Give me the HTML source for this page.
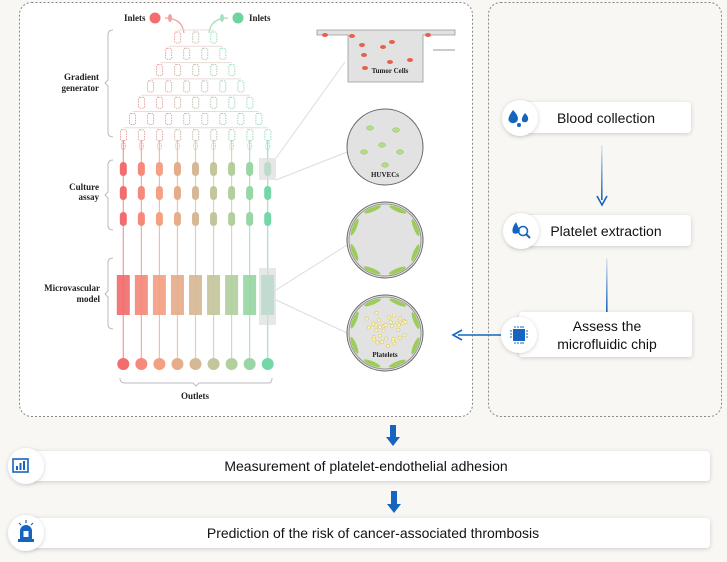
<!DOCTYPE html>
<html><head><meta charset="utf-8"><style>
html,body{margin:0;padding:0;background:#f8f7f3;}
svg{display:block;font-family:"Liberation Sans",sans-serif;}
.s{font-family:"Liberation Serif",serif;font-weight:bold;fill:#222;}
</style></head><body>
<svg id="sv" width="727" height="562" viewBox="0 0 727 562" xmlns="http://www.w3.org/2000/svg">
<defs>
<filter id="sh" x="-10%" y="-30%" width="120%" height="170%"><feDropShadow dx="0" dy="1" stdDeviation="2" flood-color="#000" flood-opacity="0.18"/></filter>
<linearGradient id="vl" x1="0" y1="0" x2="0" y2="1"><stop offset="0" stop-color="#1565c0" stop-opacity="0.1"/><stop offset="1" stop-color="#1565c0"/></linearGradient>
</defs>
<rect x="0" y="0" width="727" height="562" fill="#f8f7f3"/>
<rect x="19.5" y="2.5" width="453" height="414" rx="12" fill="#fff" stroke="#888" stroke-dasharray="2,2"/>
<rect x="488.5" y="2.5" width="233" height="414" rx="12" fill="#f8f7f3" stroke="#888" stroke-dasharray="2,2"/>
<g id="chip"></g>
<text class="s" x="124" y="21" font-size="9">Inlets</text>
<text class="s" x="249" y="21" font-size="9">Inlets</text>
<text class="s" x="99" y="80" font-size="9" text-anchor="end">Gradient</text>
<text class="s" x="99" y="91" font-size="9" text-anchor="end">generator</text>
<text class="s" x="99" y="190" font-size="9" text-anchor="end">Culture</text>
<text class="s" x="99" y="200" font-size="9" text-anchor="end">assay</text>
<text class="s" x="100" y="291" font-size="9" text-anchor="end">Microvascular</text>
<text class="s" x="100" y="302" font-size="9" text-anchor="end">model</text>
<text class="s" x="195" y="399" font-size="9" text-anchor="middle">Outlets</text>
<g fill="none" stroke="#bbb" stroke-width="1">
<path d="M113 30 Q108 30 108 35 V80 L105 83 L108 86 V132 Q108 137 113 137"/>
<path d="M113 160 Q108 160 108 165 V192 L105 195 L108 198 V225 Q108 230 113 230"/>
<path d="M113 258 Q108 258 108 263 V291 L105 294 L108 297 V324 Q108 329 113 329"/>
<path d="M120 378 Q120 383 125 383 H193 L196 386 L199 383 H268 Q272 383 272 378"/>
</g>
<rect x="259" y="158" width="17" height="22" fill="#ddd" opacity="0.7"/>
<rect x="259" y="268" width="17" height="57" fill="#ddd" opacity="0.7"/>
<g stroke="#ddd" stroke-width="1">
<line x1="276" y1="158" x2="345" y2="62"/>
<line x1="276" y1="180" x2="347" y2="152"/>
<line x1="276" y1="290" x2="347" y2="245"/>
<line x1="276" y1="300" x2="347" y2="333"/>
</g>
<path d="M317 30 H455 V35 H423 V82 H348 V35 H317 Z" fill="#e2e2e2" stroke="#999" stroke-width="0.8"/>
<line x1="433" y1="50" x2="455" y2="50" stroke="#999"/>
<g id="tc" fill="#e8604a"></g>
<text class="s" x="390" y="73" font-size="7" text-anchor="middle">Tumor Cells</text>
<circle cx="385" cy="147" r="38" fill="#e2e2e2" stroke="#666" stroke-width="1"/>
<g id="hv" fill="#b6dc8a" stroke="#8cbf5c" stroke-width="0.5"></g>
<text class="s" x="385" y="177" font-size="7" text-anchor="middle">HUVECs</text>
<circle cx="385" cy="240" r="38" fill="#e2e2e2" stroke="#666" stroke-width="1"/>
<circle cx="385" cy="333" r="38" fill="#e2e2e2" stroke="#666" stroke-width="1"/>
<g id="rg"></g>
<g id="pl" fill="#fff7c0" stroke="#d8c860" stroke-width="0.6"></g>
<text class="s" x="385" y="357" font-size="7" text-anchor="middle">Platelets</text>
<rect x="510" y="102" width="181" height="31" rx="4" fill="#fff" filter="url(#sh)"/>
<text x="606" y="123" font-size="14" fill="#111" text-anchor="middle">Blood collection</text>
<rect x="510" y="215" width="181" height="31" rx="4" fill="#fff" filter="url(#sh)"/>
<text x="606" y="236" font-size="14" fill="#111" text-anchor="middle">Platelet extraction</text>
<rect x="519" y="312" width="173" height="45" rx="3" fill="#fff" filter="url(#sh)"/>
<text x="607" y="331" font-size="14" fill="#111" text-anchor="middle">Assess the</text>
<text x="607" y="349" font-size="14" fill="#111" text-anchor="middle">microfluidic chip</text>
<rect x="601" y="145" width="1.6" height="55" fill="url(#vl)"/>
<path d="M597 196 L602 205 L607 196" fill="none" stroke="#1565c0" stroke-width="1.6"/>
<rect x="606" y="258" width="1.6" height="54" fill="url(#vl)"/>
<line x1="458" y1="335" x2="508" y2="335" stroke="#1565c0" stroke-width="1.6"/>
<path d="M462 330 L453 335 L462 340" fill="none" stroke="#1565c0" stroke-width="1.6"/>
<g filter="url(#sh)">
<circle cx="520" cy="118" r="18" fill="#fff"/>
<circle cx="521" cy="231" r="18" fill="#fff"/>
<circle cx="519" cy="335" r="18" fill="#fff"/>
</g>
<g fill="#1565c0">
<path d="M513 110 Q507 118 509 121 A5 5 0 0 0 518 119 Q518 115 513 110Z"/>
<path d="M525 113 Q521 118 522 121 A3.5 3.5 0 0 0 528 120 Q529 117 525 113Z"/>
<circle cx="519" cy="125" r="2"/>
<path d="M516 222 Q511 229 513 233 A5 5 0 0 0 520 231 Z"/>
<circle cx="523" cy="231" r="4.5" fill="none" stroke="#1565c0" stroke-width="1.6"/>
<line x1="526" y1="234" x2="530" y2="238" stroke="#1565c0" stroke-width="2"/>
<rect x="513" y="329" width="12" height="12"/>
<g stroke="#1565c0" stroke-width="1"><path d="M515 326v2M518 326v2M521 326v2M523 326v2M515 342v2M518 342v2M521 342v2M523 342v2M510 331h2M510 334h2M510 337h2M526 331h2M526 334h2M526 337h2"/></g>
</g>
<path d="M390 425 h6 v12 h4 l-7 9 l-7 -9 h4z" fill="#1565c0"/>
<rect x="22" y="451" width="688" height="30" rx="4" fill="#fff" filter="url(#sh)"/>
<text x="366" y="471" font-size="14" fill="#111" text-anchor="middle">Measurement of platelet-endothelial adhesion</text>
<path d="M391 491 h6 v13 h4 l-7 9 l-7 -9 h4z" fill="#1565c0"/>
<rect x="22" y="518" width="688" height="30" rx="4" fill="#fff" filter="url(#sh)"/>
<text x="373" y="538" font-size="14" fill="#111" text-anchor="middle">Prediction of the risk of cancer-associated thrombosis</text>
<g filter="url(#sh)"><circle cx="26" cy="466" r="18" fill="#fff"/><circle cx="26" cy="533" r="18" fill="#fff"/></g>
<rect x="13" y="459" width="15" height="13" fill="none" stroke="#1565c0" stroke-width="1.6"/>
<g fill="#1565c0"><rect x="16" y="466" width="2" height="4"/><rect x="19.5" y="463" width="2" height="7"/><rect x="23" y="461" width="2" height="9"/></g>
<path d="M20 539 V531 A6 6 0 0 1 32 531 V539 Z M18 539 h16 v3 h-16z" fill="#1565c0"/>
<rect x="23.5" y="531" width="5" height="6" fill="#fff"/>
<g stroke="#1565c0" stroke-width="1.2"><path d="M26 520v3M19 523l2 2M33 523l-2 2"/></g>
</svg>
<script>
(function(){
var NS="http://www.w3.org/2000/svg";
function el(p,t,a){var e=document.createElementNS(NS,t);for(var k in a)e.setAttribute(k,a[k]);p.appendChild(e);return e;}
var chip=document.getElementById('chip');
var cols=["#f26d6d","#f5897a","#f3a083","#e6ad8b","#d6b896","#c4c59c","#b2cf9d","#98d6a3","#74d7a7"];
function mix(a,b,t){var x=parseInt(a.slice(1),16),y=parseInt(b.slice(1),16);var r=[16,8,0].map(function(s){return Math.round(((x>>s)&255)*(1-t)+((y>>s)&255)*t);});return "rgb("+r.join(",")+")";}
var cx0=123.3,dx=18.05;
el(chip,'path',{d:'M165 18 Q182 18 184 33',stroke:'#f1a0a0',fill:'none','stroke-width':1.2});
el(chip,'path',{d:'M228 18 Q211 18 209 33',stroke:'#9fdcbc',fill:'none','stroke-width':1.2});
el(chip,'circle',{cx:155,cy:18,r:5.5,fill:'#f26d6d'});
el(chip,'ellipse',{cx:170,cy:18,rx:2,ry:4,fill:'#f5a0a0'});
el(chip,'circle',{cx:238,cy:18,r:5.5,fill:'#6fd3a0'});
el(chip,'ellipse',{cx:222,cy:18,rx:2,ry:4,fill:'#a6e0c2'});
var mid=195.7;
for(var k=3;k<=9;k++){
 var y=35+(k-3)*16.3;
 var span=(k-1)*dx,x0=mid-span/2;
 el(chip,'line',{x1:x0,y1:y-5,x2:x0+span,y2:y-5,stroke:'#eadbd6','stroke-width':1});
 for(var i=0;i<k;i++){
  var x=x0+i*dx,c=mix('#e9a0a0','#98dcc0',i/(k-1));
  el(chip,'rect',{x:x-3,y:y-3,width:6,height:11,rx:1.5,fill:'none',stroke:c,'stroke-width':1,'stroke-dasharray':'1.5,1'});
 }
}
for(var i=0;i<9;i++){
 var x=cx0+i*dx,c=cols[i];
 el(chip,'line',{x1:x,y1:140,x2:x,y2:365,stroke:c,'stroke-width':1.2,opacity:0.7});
 el(chip,'ellipse',{cx:x,cy:146,rx:2,ry:4,fill:'none',stroke:c,'stroke-dasharray':'1,1',opacity:0.8});
 [169,193,219].forEach(function(yy){el(chip,'rect',{x:x-3.5,y:yy-7,width:7,height:14,rx:3.5,fill:c});});
 el(chip,'rect',{x:x-6.5,y:275,width:13,height:40,fill:c,opacity:0.92});
 el(chip,'circle',{cx:x,cy:364,r:6,fill:c});
}
var tc=document.getElementById('tc');
[[325,35],[352,36],[428,35],[362,45],[383,47],[392,42],[364,55],[390,62],[410,60],[365,68]].forEach(function(p){el(tc,'ellipse',{cx:p[0],cy:p[1],rx:3,ry:2});});
var hv=document.getElementById('hv');
[[370,128],[396,130],[382,145],[364,152],[400,152],[385,165]].forEach(function(p){el(hv,'ellipse',{cx:p[0],cy:p[1],rx:3.5,ry:2.2});});
var rg=document.getElementById('rg');
[240,333].forEach(function(cy){
 for(var a=0;a<8;a++){var t=a*Math.PI/4+0.4;
  var x=385+33*Math.cos(t),y=cy+33*Math.sin(t);
  el(rg,'ellipse',{cx:x,cy:y,rx:9,ry:2.2,fill:'#9ccc5a',transform:'rotate('+(t*180/Math.PI+90)+' '+x+' '+y+')'});}
 el(rg,'circle',{cx:385,cy:cy,r:36,fill:'none',stroke:'#888','stroke-width':0.8});
});
var pl=document.getElementById('pl');
var seed=3;function rnd(){seed=(seed*9301+49297)%233280;return seed/233280;}
for(var i=0;i<34;i++){var a=rnd()*6.28,r=Math.sqrt(rnd())*22;el(pl,'circle',{cx:385+r*Math.cos(a),cy:328+r*Math.sin(a)*0.85,r:1.6});}
})();
</script>
</body></html>
